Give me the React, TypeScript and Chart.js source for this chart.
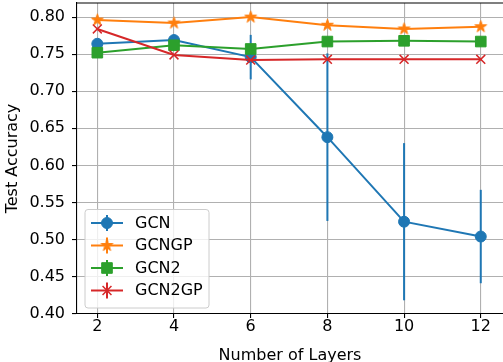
import React, { useEffect, useRef } from 'react';
import { Chart, registerables } from 'chart.js';
import { drawPoint } from 'chart.js/helpers';

Chart.register(...registerables);

const layers = [2, 4, 6, 8, 10, 12];
const gcn = [0.764, 0.769, 0.746, 0.638, 0.524, 0.504];
const gcnErr = [0.004, 0.004, 0.03, 0.113, 0.106, 0.063];
const gcngp = [0.796, 0.792, 0.8, 0.789, 0.784, 0.787];
const gcngpErr = [0.002, 0.002, 0.002, 0.002, 0.002, 0.002];
const gcn2 = [0.752, 0.762, 0.757, 0.767, 0.768, 0.767];
const gcn2Err = [0.002, 0.002, 0.002, 0.002, 0.002, 0.002];
const gcn2gp = [0.784, 0.749, 0.742, 0.743, 0.743, 0.743];
const gcn2gpErr = [0.001, 0.001, 0.001, 0.001, 0.001, 0.001];

const seriesLabels = ['GCN', 'GCNGP', 'GCN2', 'GCN2GP'];
const seriesColors = ['#1f77b4', '#ff7f0e', '#2ca02c', '#d62728'];
const yTicks = [0.4, 0.45, 0.5, 0.55, 0.6, 0.65, 0.7, 0.75, 0.8];
const xTicks = [2, 4, 6, 8, 10, 12];

const FONT = 'DejaVu Sans';
const FS = 16;

function makeStar(color: string, R: number) {
  const r = R * 0.381966;
  const size = Math.ceil(2 * R + 2);
  const c = document.createElement('canvas');
  c.width = size;
  c.height = size;
  const ctx = c.getContext('2d')!;
  ctx.translate(size / 2, size / 2);
  ctx.beginPath();
  for (let i = 0; i < 10; i++) {
    const rad = i % 2 === 0 ? R : r;
    const a = -Math.PI / 2 + (i * Math.PI) / 5;
    ctx.lineTo(rad * Math.cos(a), rad * Math.sin(a));
  }
  ctx.closePath();
  ctx.fillStyle = color;
  ctx.fill();
  ctx.strokeStyle = color;
  ctx.lineWidth = 1;
  ctx.stroke();
  return c;
}

const errorBarPlugin = {
  id: 'errbars',
  beforeDatasetDraw(chart: any, args: any) {
    const ds = chart.data.datasets[args.index];
    const errs = ds.errors;
    if (!errs) return;
    const { ctx, chartArea } = chart;
    const x = chart.scales.x;
    const y = chart.scales.y;
    ctx.save();
    ctx.beginPath();
    ctx.rect(chartArea.left, chartArea.top, chartArea.right - chartArea.left, chartArea.bottom - chartArea.top);
    ctx.clip();
    ctx.strokeStyle = ds.borderColor;
    ctx.lineWidth = 2;
    ds.data.forEach((p: any, i: number) => {
      const px = x.getPixelForValue(p.x);
      ctx.beginPath();
      ctx.moveTo(px, y.getPixelForValue(p.y - errs[i]));
      ctx.lineTo(px, y.getPixelForValue(p.y + errs[i]));
      ctx.stroke();
    });
    ctx.restore();
  },
};

const framePlugin = {
  id: 'frame',
  afterDatasetsDraw(chart: any) {
    const { ctx, chartArea } = chart;
    ctx.save();
    ctx.strokeStyle = '#000';
    ctx.lineWidth = 1.1;
    ctx.beginPath();
    ctx.moveTo(chartArea.left, chartArea.top);
    ctx.lineTo(chartArea.right + 2, chartArea.top);
    ctx.stroke();
    ctx.restore();
  },
};

const legendPlugin = {
  id: 'customLegend',
  afterDraw(chart: any) {
    const { ctx } = chart;
    const x0 = 85, y0 = 209.5, w = 124, h = 98.5, rad = 3;
    ctx.save();
    ctx.beginPath();
    ctx.moveTo(x0 + rad, y0);
    ctx.lineTo(x0 + w - rad, y0);
    ctx.arcTo(x0 + w, y0, x0 + w, y0 + rad, rad);
    ctx.lineTo(x0 + w, y0 + h - rad);
    ctx.arcTo(x0 + w, y0 + h, x0 + w - rad, y0 + h, rad);
    ctx.lineTo(x0 + rad, y0 + h);
    ctx.arcTo(x0, y0 + h, x0, y0 + h - rad, rad);
    ctx.lineTo(x0, y0 + rad);
    ctx.arcTo(x0, y0, x0 + rad, y0, rad);
    ctx.closePath();
    ctx.fillStyle = 'rgba(255,255,255,0.8)';
    ctx.fill();
    ctx.strokeStyle = '#cccccc';
    ctx.lineWidth = 1;
    ctx.stroke();

    chart.data.datasets.forEach((ds: any, i: number) => {
      const cy = 223 + i * 22.5;
      const cx = 107;
      ctx.strokeStyle = ds.borderColor;
      ctx.fillStyle = ds.pointBackgroundColor;
      ctx.lineWidth = 2;
      ctx.beginPath();
      ctx.moveTo(91, cy);
      ctx.lineTo(123, cy);
      ctx.stroke();
      ctx.beginPath();
      ctx.moveTo(cx, cy - 8);
      ctx.lineTo(cx, cy + 8);
      ctx.stroke();
      ctx.lineWidth = ds.pointBorderWidth;
      drawPoint(ctx, { pointStyle: ds.pointStyle, rotation: 0, radius: ds.pointRadius, borderWidth: ds.pointBorderWidth }, cx, cy);
      ctx.fillStyle = '#000';
      ctx.font = `${FS}px "${FONT}"`;
      ctx.textBaseline = 'middle';
      ctx.textAlign = 'left';
      ctx.fillText(ds.label, 135, cy + 0.5);
    });
    ctx.restore();
  },
};

function zeroPad(s: any) {
  s.paddingTop = 0;
  s.paddingBottom = 0;
  s.paddingLeft = 0;
  s.paddingRight = 0;
}

export default function App() {
  const ref = useRef<HTMLCanvasElement>(null);
  useEffect(() => {
    const values = [gcn, gcngp, gcn2, gcn2gp];
    const errors = [gcnErr, gcngpErr, gcn2Err, gcn2gpErr];
    const styles: any[] = ['circle', makeStar(seriesColors[1], 6.2), 'rect', 'crossRot'];
    const radii = [5.5, 6.2, 7.5, 6.3];
    const bws = [1, 1, 1, 1.5];
    const datasets = seriesLabels.map((label, i) => ({
      label,
      data: layers.map((l, j) => ({ x: l, y: values[i][j] })),
      errors: errors[i],
      borderColor: seriesColors[i],
      backgroundColor: seriesColors[i],
      pointBackgroundColor: seriesColors[i],
      pointBorderColor: seriesColors[i],
      pointStyle: styles[i],
      pointRadius: radii[i],
      pointBorderWidth: bws[i],
      borderWidth: 2,
      order: 3 - i,
      tension: 0,
    }));
    const chart = new Chart(ref.current!, {
      type: 'line',
      data: { datasets } as any,
      options: {
        animation: false,
        responsive: false,
        events: [],
        layout: { autoPadding: false, padding: { top: 3, right: 0, left: 0, bottom: 0 } },
        plugins: { legend: { display: false }, tooltip: { enabled: false } },
        scales: {
          x: {
            type: 'linear',
            min: 1.47,
            max: 12.58,
            afterBuildTicks: (s: any) => { s.ticks = xTicks.map((v) => ({ value: v })); },
            afterFit: (s: any) => { s.height = 48; zeroPad(s); },
            ticks: { color: '#000', font: { family: FONT, size: FS }, padding: -1, maxRotation: 0, callback: (v: any) => String(v) },
            grid: { color: '#b0b0b0', lineWidth: 1.1, tickColor: '#000', tickLength: 4, tickWidth: 1.1 },
            border: { display: true, color: '#000', width: 1.1 },
            title: { display: true, text: 'Number of Layers', color: '#000', font: { family: FONT, size: FS }, padding: { top: 0, bottom: -3 } },
          },
          y: {
            type: 'linear',
            min: 0.3995,
            max: 0.819,
            afterBuildTicks: (s: any) => { s.ticks = yTicks.map((v) => ({ value: v })); },
            afterFit: (s: any) => { s.width = 77; zeroPad(s); },
            ticks: { color: '#000', font: { family: FONT, size: FS }, padding: 7, callback: (v: any) => Number(v).toFixed(2) },
            grid: { color: '#b0b0b0', lineWidth: 1.1, tickColor: '#000', tickLength: 5, tickWidth: 1.1 },
            border: { display: true, color: '#000', width: 1.1 },
            title: { display: true, text: 'Test Accuracy', color: '#000', font: { family: FONT, size: FS }, padding: { top: 3.3, bottom: 0 } },
          },
        },
      },
      plugins: [errorBarPlugin, framePlugin, legendPlugin],
    } as any);
    return () => chart.destroy();
  }, []);
  return (
    <div style={{ position: 'fixed', left: 0, top: 0, width: 503, height: 362, overflow: 'hidden', background: '#fff' }}>
      <canvas ref={ref} width={503} height={362} style={{ display: 'block', width: 503, height: 362 }} />
    </div>
  );
}
